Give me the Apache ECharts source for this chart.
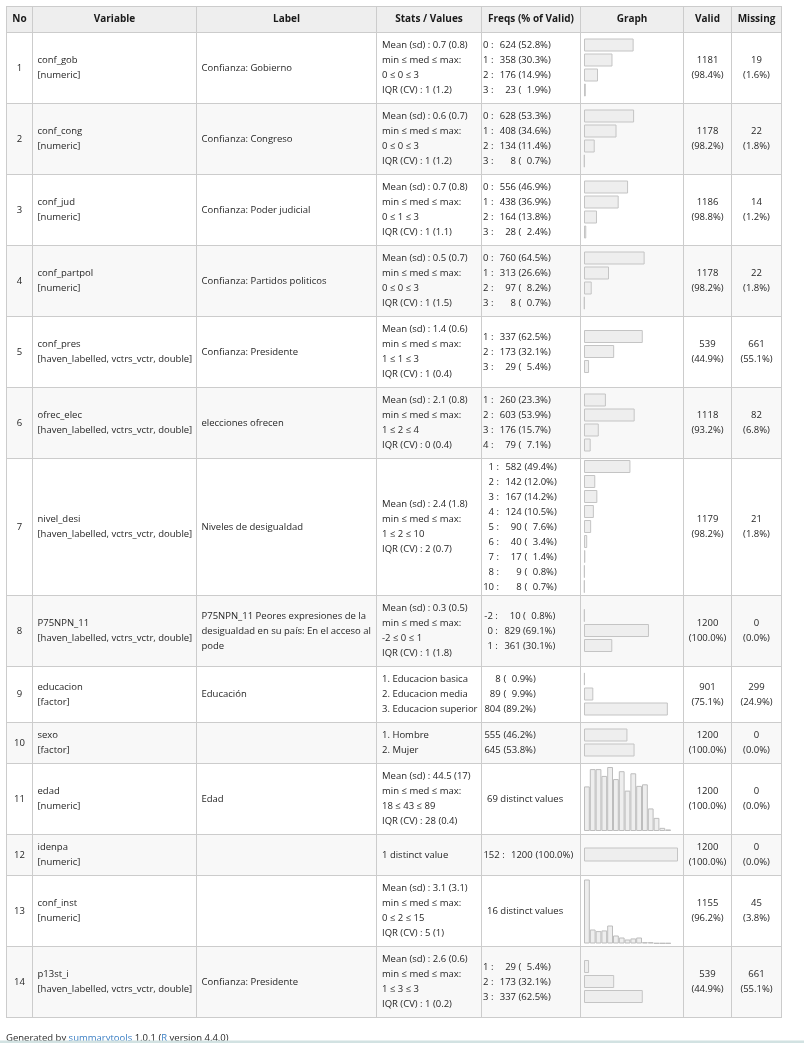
<!DOCTYPE html>
<html>
<head>
<meta charset="utf-8">
<script src="https://cdn.jsdelivr.net/npm/echarts@6/dist/echarts.min.js"></script>
<style>
    html,body{margin:0;padding:0;background:#fff;}
    #main{width:804px;height:1043px;}
</style>
</head>
<body>
<div id="main"></div>
<script>
    // table content
    var headers = ['No', 'Variable', 'Label', 'Stats / Values', 'Freqs (% of Valid)', 'Graph', 'Valid', 'Missing'];
    var varNames = ['conf_gob', 'conf_cong', 'conf_jud', 'conf_partpol', 'conf_pres', 'ofrec_elec', 'nivel_desi',
        'P75NPN_11', 'educacion', 'sexo', 'edad', 'idenpa', 'conf_inst', 'p13st_i'];
    var hv = '[haven_labelled, vctrs_vctr, double]';
    var varTypes = ['[numeric]', '[numeric]', '[numeric]', '[numeric]', hv, hv, hv, hv,
        '[factor]', '[factor]', '[numeric]', '[numeric]', '[numeric]', hv];
    var varLabels = ['Confianza: Gobierno', 'Confianza: Congreso', 'Confianza: Poder judicial',
        'Confianza: Partidos politicos', 'Confianza: Presidente', 'elecciones ofrecen', 'Niveles de desigualdad',
        'P75NPN_11 Peores expresiones de la\ndesigualdad en su país: En el acceso al\npode',
        'Educación', '', 'Edad', '', '', 'Confianza: Presidente'];
    var mmm = 'min ≤ med ≤ max:';
    var statLines = [
        ['Mean (sd) : 0.7 (0.8)', mmm, '0 ≤ 0 ≤ 3', 'IQR (CV) : 1 (1.2)'],
        ['Mean (sd) : 0.6 (0.7)', mmm, '0 ≤ 0 ≤ 3', 'IQR (CV) : 1 (1.2)'],
        ['Mean (sd) : 0.7 (0.8)', mmm, '0 ≤ 1 ≤ 3', 'IQR (CV) : 1 (1.1)'],
        ['Mean (sd) : 0.5 (0.7)', mmm, '0 ≤ 0 ≤ 3', 'IQR (CV) : 1 (1.5)'],
        ['Mean (sd) : 1.4 (0.6)', mmm, '1 ≤ 1 ≤ 3', 'IQR (CV) : 1 (0.4)'],
        ['Mean (sd) : 2.1 (0.8)', mmm, '1 ≤ 2 ≤ 4', 'IQR (CV) : 0 (0.4)'],
        ['Mean (sd) : 2.4 (1.8)', mmm, '1 ≤ 2 ≤ 10', 'IQR (CV) : 2 (0.7)'],
        ['Mean (sd) : 0.3 (0.5)', mmm, '-2 ≤ 0 ≤ 1', 'IQR (CV) : 1 (1.8)'],
        ['1. Educacion basica', '2. Educacion media', '3. Educacion superior'],
        ['1. Hombre', '2. Mujer'],
        ['Mean (sd) : 44.5 (17)', mmm, '18 ≤ 43 ≤ 89', 'IQR (CV) : 28 (0.4)'],
        ['1 distinct value'],
        ['Mean (sd) : 3.1 (3.1)', mmm, '0 ≤ 2 ≤ 15', 'IQR (CV) : 5 (1)'],
        ['Mean (sd) : 2.6 (0.6)', mmm, '1 ≤ 3 ≤ 3', 'IQR (CV) : 1 (0.2)']
    ];

    // frequencies (null = histogram row)
    var freqKeys = [
        ['0', '1', '2', '3'], ['0', '1', '2', '3'], ['0', '1', '2', '3'], ['0', '1', '2', '3'],
        ['1', '2', '3'], ['1', '2', '3', '4'], ['1', '2', '3', '4', '5', '6', '7', '8', '10'],
        ['-2', '0', '1'], null, null, null, ['152'], null, ['1', '2', '3']
    ];
    var freqCounts = [
        [624, 358, 176, 23], [628, 408, 134, 8], [556, 438, 164, 28], [760, 313, 97, 8],
        [337, 173, 29], [260, 603, 176, 79], [582, 142, 167, 124, 90, 40, 17, 9, 8],
        [10, 829, 361], [8, 89, 804], [555, 645], null, [1200], null, [29, 173, 337]
    ];
    var freqPcts = [
        [52.8, 30.3, 14.9, 1.9], [53.3, 34.6, 11.4, 0.7], [46.9, 36.9, 13.8, 2.4], [64.5, 26.6, 8.2, 0.7],
        [62.5, 32.1, 5.4], [23.3, 53.9, 15.7, 7.1], [49.4, 12.0, 14.2, 10.5, 7.6, 3.4, 1.4, 0.8, 0.7],
        [0.8, 69.1, 30.1], [0.9, 9.9, 89.2], [46.2, 53.8], null, [100.0], null, [5.4, 32.1, 62.5]
    ];
    var distinctText = ['', '', '', '', '', '', '', '', '', '', '69 distinct values', '', '16 distinct values', ''];

    // histograms
    var edadBins = ['15', '20', '25', '30', '35', '40', '45', '50', '55', '60', '65', '70', '75', '80', '85'];
    var edadCounts = [85, 118, 118, 105, 122, 99, 114, 77, 110, 86, 89, 43, 25, 6, 3];
    var instBins = ['0', '1', '2', '3', '4', '5', '6', '7', '8', '9', '10', '11', '12', '13', '14'];
    var instCounts = [480, 105, 93, 98, 135, 60, 45, 30, 38, 45, 10, 10, 3, 3, 3];

    var validN = [1181, 1178, 1186, 1178, 539, 1118, 1179, 1200, 901, 1200, 1200, 1200, 1155, 539];
    var validPct = [98.4, 98.2, 98.8, 98.2, 44.9, 93.2, 98.2, 100.0, 75.1, 100.0, 100.0, 100.0, 96.2, 44.9];
    var missingN = [19, 22, 14, 22, 661, 82, 21, 0, 299, 0, 0, 0, 45, 661];
    var missingPct = [1.6, 1.8, 1.2, 1.8, 55.1, 6.8, 1.8, 0.0, 24.9, 0.0, 0.0, 0.0, 3.8, 55.1];

    // layout
    var colX = [6, 32, 196, 376, 481, 580, 683, 731, 781];
    var rowY = [6, 32, 103, 174, 245, 316, 387, 458, 595, 666, 722, 763, 834, 875, 946, 1017];
    // key right, count right, "(" left
    var fA = [493.5, 516, 518.5];
    var freqCols = [fA, fA, fA, fA, fA, fA, [499, 521.7, 524.5], [497.8, 520.7, 523],
        [null, 500.7, 503.5], [null, 500.7, 503.5], null, [504.7, 532.7, 535.5], null, fA];

    var FONT = '"Open Sans", sans-serif';
    var FS = 9.5;
    var TXT = '#262626';
    var LINE = '#cccccc';

    var measure = document.createElement('canvas').getContext('2d');
    measure.font = FS + 'px ' + FONT;
    function tw(s) { return measure.measureText(s).width; }

    var els = [];
    function txt(s, x, y, align, bold, color, size) {
        els.push({
            type: 'text', z: 20, silent: true,
            style: {
                text: s, x: x, y: y, fill: color || TXT,
                font: (bold ? 'bold ' : '') + (size || FS) + 'px ' + FONT,
                textAlign: align || 'left', textVerticalAlign: 'middle'
            }
        });
    }
    function lines(arr, x, cy, align) {
        for (var k = 0; k < arr.length; k++) {
            txt(arr[k], x, cy - (arr.length - 1) * 7.5 + k * 15, align);
        }
    }

    // backgrounds
    els.push({type: 'rect', z: 0, silent: true, shape: {x: colX[0], y: rowY[0], width: colX[8] - colX[0], height: rowY[1] - rowY[0]}, style: {fill: '#eeeeee'}});
    for (var r = 1; r < 14; r += 2) {
        els.push({type: 'rect', z: 0, silent: true, shape: {x: colX[0], y: rowY[r + 1], width: colX[8] - colX[0], height: rowY[r + 2] - rowY[r + 1]}, style: {fill: '#f8f8f8'}});
    }
    // cell borders
    rowY.forEach(function (y) {
        els.push({type: 'line', z: 30, silent: true, shape: {x1: colX[0], y1: y + 0.5, x2: colX[8] + 1, y2: y + 0.5}, style: {stroke: LINE, lineWidth: 1}});
    });
    colX.forEach(function (x) {
        els.push({type: 'line', z: 30, silent: true, shape: {x1: x + 0.5, y1: rowY[0], x2: x + 0.5, y2: rowY[15] + 1}, style: {stroke: LINE, lineWidth: 1}});
    });

    // header
    headers.forEach(function (h, c) {
        txt(h, (colX[c] + colX[c + 1]) / 2 + 0.5, (rowY[0] + rowY[1]) / 2 + 0.5, 'center', true, '#1a1a1a', 10);
    });

    var grids = [], xAxes = [], yAxes = [], series = [];
    var barStyle = {color: '#eeeeee', borderColor: '#c4c4c4', borderWidth: 1};

    for (var i = 0; i < 14; i++) {
        var cy = (rowY[i + 1] + rowY[i + 2]) / 2 + 0.5;
        txt(String(i + 1), (colX[0] + colX[1]) / 2 + 0.5, cy, 'center');
        lines([varNames[i], varTypes[i]], colX[1] + 5.5, cy);
        if (varLabels[i]) lines(varLabels[i].split('\n'), colX[2] + 5.5, cy);
        lines(statLines[i], colX[3] + 6, cy);
        lines([String(validN[i]), '(' + validPct[i].toFixed(1) + '%)'], (colX[6] + colX[7]) / 2 + 0.5, cy, 'center');
        lines([String(missingN[i]), '(' + missingPct[i].toFixed(1) + '%)'], (colX[7] + colX[8]) / 2 + 0.5, cy, 'center');

        var g = grids.length;
        if (freqCounts[i] === null) {
            txt(distinctText[i], colX[4] + 6, cy);
            var isAge = i === 10;
            var h = isAge ? edadCounts : instCounts;
            grids.push({left: 584, top: isAge ? 767 : 879.5, width: 87, height: 64});
            xAxes.push({type: 'category', gridIndex: g, data: isAge ? edadBins : instBins, show: false});
            yAxes.push({type: 'value', gridIndex: g, min: 0, max: Math.max.apply(null, h), show: false});
            series.push({type: 'bar', xAxisIndex: g, yAxisIndex: g, data: h, barWidth: 87 / h.length, barCategoryGap: '0%',
                itemStyle: {color: '#eeeeee', borderColor: '#bdbdbd', borderWidth: 1}, silent: true});
        } else {
            var n = freqCounts[i].length;
            var fc = freqCols[i];
            var widest = 0;
            freqPcts[i].forEach(function (p) { widest = Math.max(widest, tw(p.toFixed(1) + '%)')); });
            var pctRight = fc[2] + tw('(') + widest;
            for (var k = 0; k < n; k++) {
                var ly = cy - (n - 1) * 7.5 + k * 15;
                if (freqKeys[i]) txt(freqKeys[i][k] + ' :', fc[0], ly, 'right');
                txt(String(freqCounts[i][k]), fc[1], ly, 'right');
                txt('(', fc[2], ly, 'left');
                txt(freqPcts[i][k].toFixed(1) + '%)', pctRight, ly, 'right');
            }
            grids.push({left: 584, top: cy - 0.5 - n * 7.5, width: 94, height: n * 15});
            xAxes.push({type: 'value', gridIndex: g, min: 0, max: 100, show: false});
            yAxes.push({type: 'category', gridIndex: g, inverse: true, show: false,
                data: freqKeys[i] ? freqKeys[i] : statLines[i]});
            series.push({type: 'bar', xAxisIndex: g, yAxisIndex: g, data: freqPcts[i],
                barWidth: n === 1 ? 14 : 13, itemStyle: barStyle, silent: true});
        }
    }

    // footer
    els.push({
        type: 'text', z: 20, silent: true,
        style: {
            text: 'Generated by {a|summarytools} 1.0.1 ({a|R} version 4.4.0)',
            x: 6, y: 1038, fill: TXT, font: FS + 'px ' + FONT,
            textAlign: 'left', textVerticalAlign: 'middle',
            rich: {a: {fill: '#3b7fc4', font: FS + 'px ' + FONT}}
        }
    });
    els.push({type: 'rect', z: 40, silent: true, shape: {x: 0, y: 1040.5, width: 804, height: 3}, style: {fill: '#d2e2e2'}});

    var myChart = echarts.init(document.getElementById('main'));
    var option = {
        animation: false,
        grid: grids,
        xAxis: xAxes,
        yAxis: yAxes,
        series: series,
        graphic: {elements: els}
    };
    myChart.setOption(option, true);
</script>
</body>
</html>
